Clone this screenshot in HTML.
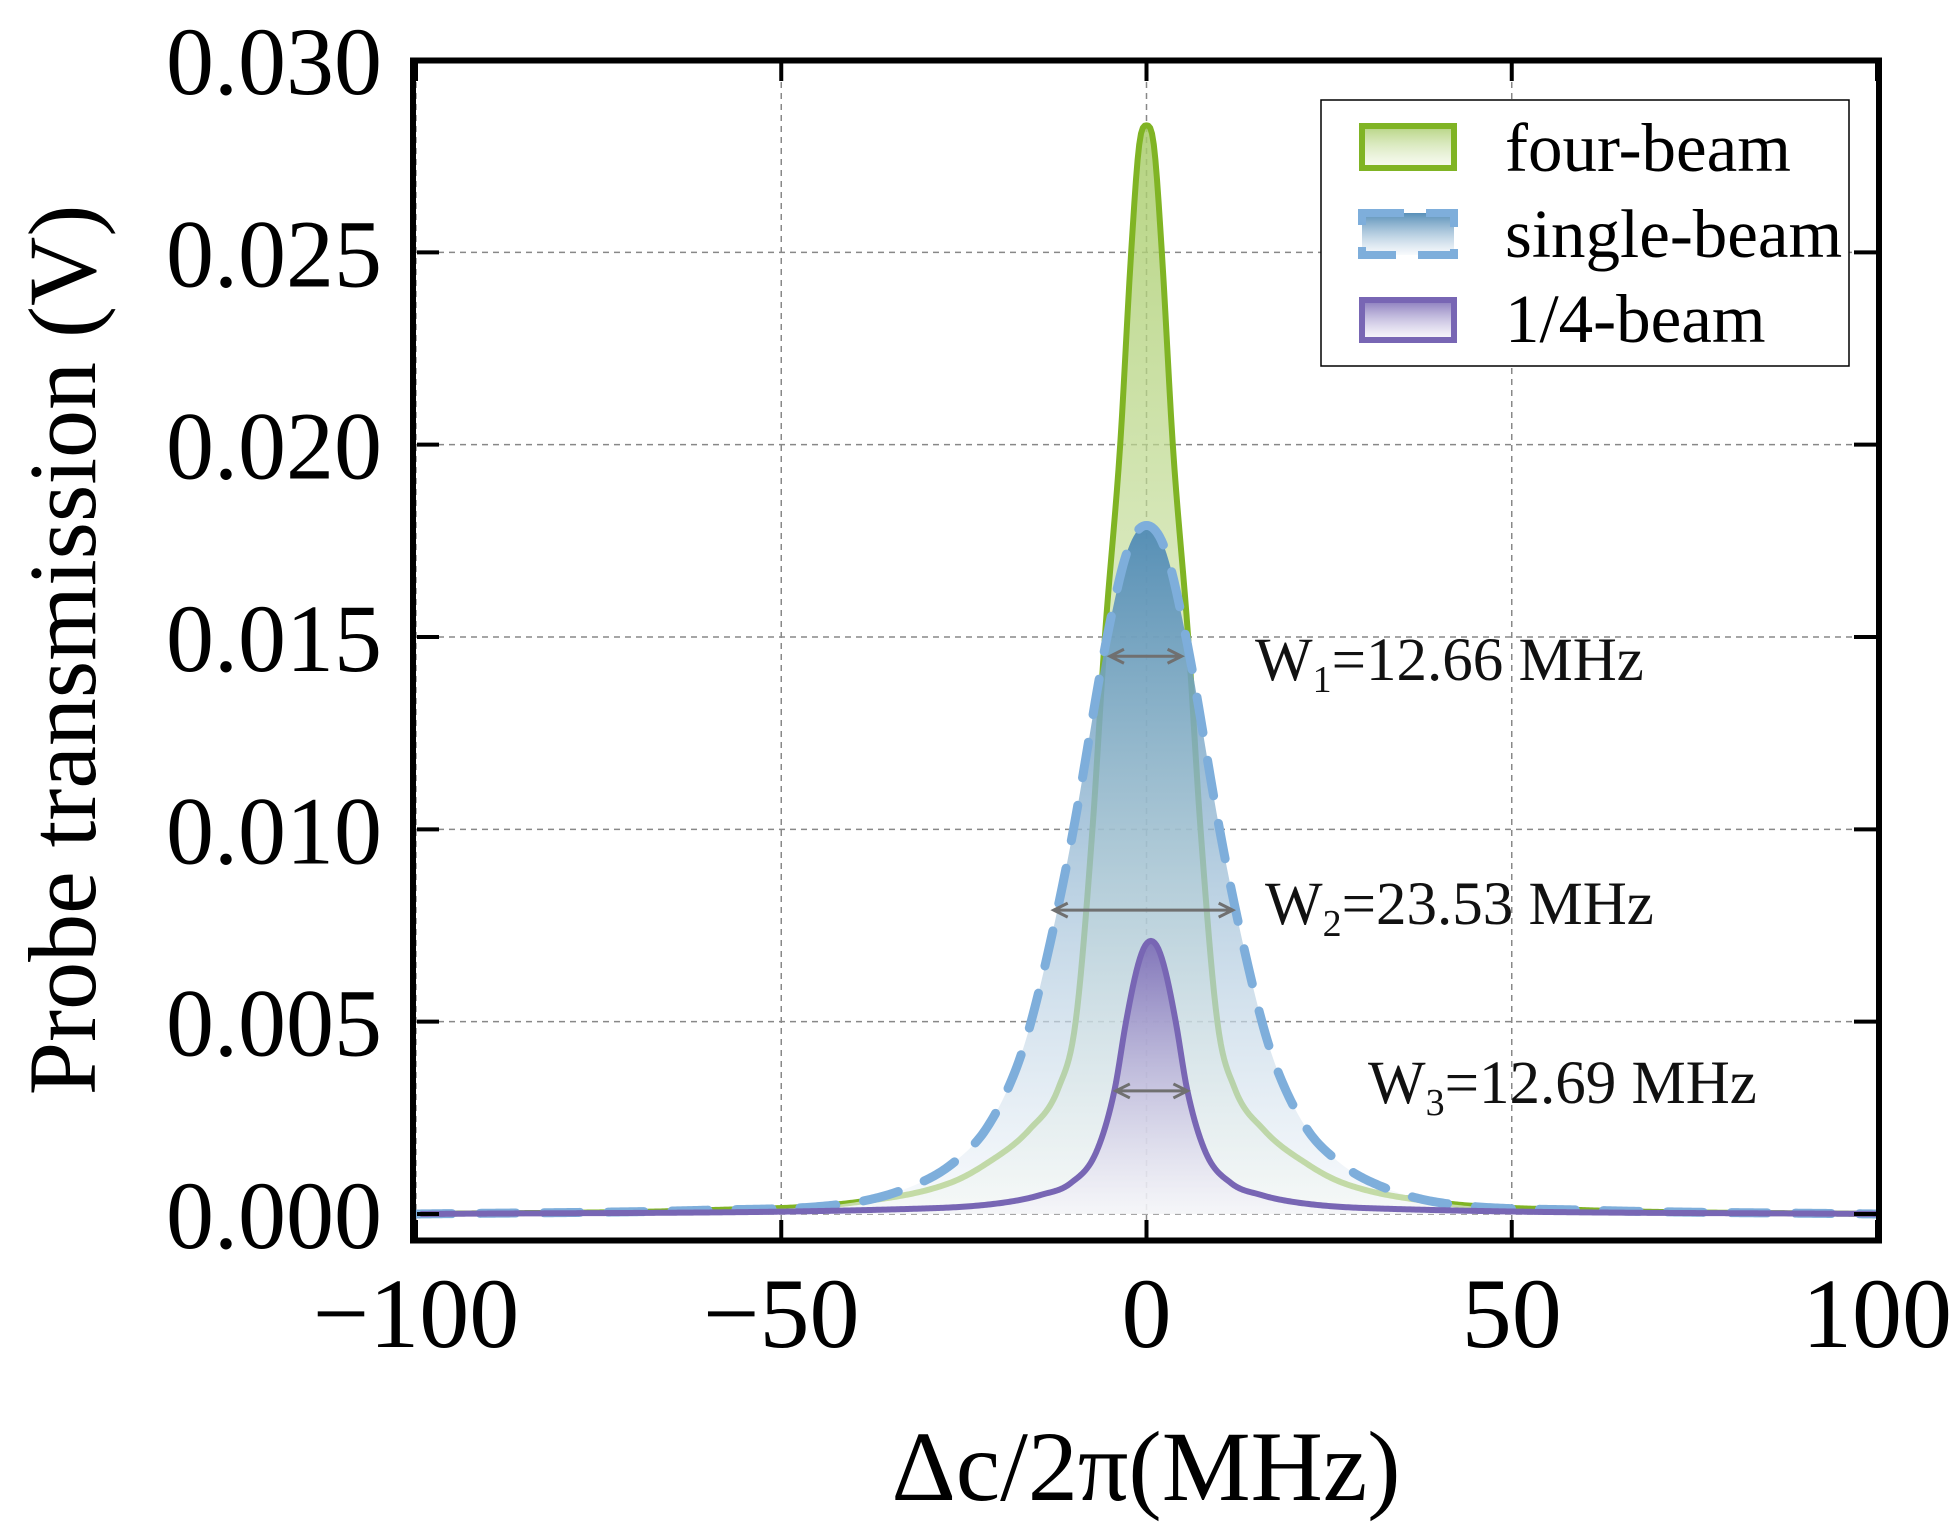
<!DOCTYPE html>
<html><head><meta charset="utf-8"><style>
html,body{margin:0;padding:0;background:#fff;}
svg{display:block;font-family:"Liberation Serif",serif;}
</style></head><body>
<svg id="chart" width="1958" height="1539" viewBox="0 0 1958 1539">
<defs>
<linearGradient id="gGreen" x1="0" y1="0" x2="0" y2="1"><stop offset="0" stop-color="#a8cc6a" stop-opacity="0.85"/><stop offset="1" stop-color="#eef5e0" stop-opacity="0.4"/></linearGradient>
<linearGradient id="gBlue" x1="0" y1="0" x2="0" y2="1"><stop offset="0" stop-color="#4f8ab5" stop-opacity="0.95"/><stop offset="1" stop-color="#f4f7fb" stop-opacity="0.6"/></linearGradient>
<linearGradient id="gPurple" x1="0" y1="0" x2="0" y2="1"><stop offset="0" stop-color="#7a6ab5" stop-opacity="0.9"/><stop offset="1" stop-color="#f5f3fa" stop-opacity="0.5"/></linearGradient>
<clipPath id="plotClip"><rect x="416" y="62" width="1461" height="1178"/></clipPath>
</defs>
<g id="grid"></g>
<g id="series" clip-path="url(#plotClip)"></g>
<g id="annot"></g>
<g id="axes"></g>
</svg>
<script>
const xTicks=[-100,-50,0,50,100];
const xTickLabels=["\u2212100","\u221250","0","50","100"];
const yTicks=[0,0.005,0.010,0.015,0.020,0.025,0.030];
const yTickLabels=["0.000","0.005","0.010","0.015","0.020","0.025","0.030"];
const fourX=[-100,-60,-40,-27,-22,-16,-12,-9.7,-7.4,-5.7,-3.6,-2.1,-1,0,1,2.1,3.6,5.7,7.4,9.7,12,16,22,27,40,60,100];
const fourBeam=[0,0.0001,0.0003,0.0008,0.0013,0.0022,0.0033,0.005,0.010,0.015,0.020,0.025,0.0278,0.0283,0.0278,0.025,0.020,0.015,0.010,0.005,0.0033,0.0022,0.0013,0.0008,0.0003,0.0001,0];
const singleX=[-100,-60,-40,-30,-26,-22,-18,-15.8,-12.2,-10,-5.4,-2.5,0,2.5,5.4,10,12.2,15.8,18,22,26,30,40,60,100];
const singleBeam=[0,0.0001,0.0003,0.0009,0.0014,0.0022,0.0037,0.005,0.0079,0.010,0.015,0.0173,0.0179,0.0173,0.015,0.010,0.0079,0.005,0.0037,0.0022,0.0014,0.0009,0.0003,0.0001,0];
const quarterX=[-99.4,-29.4,-19.4,-14.4,-10.4,-6.9,-4.4,-2.8,-1.4,-0.4,0.6,1.6,2.6,4,5.6,8.1,11.6,15.6,20.6,30.6,100.6];
const quarterBeam=[0,0.00015,0.0003,0.0005,0.0008,0.0016,0.0032,0.005,0.0063,0.0069,0.0071,0.0069,0.0063,0.005,0.0032,0.0016,0.0008,0.0005,0.0003,0.00015,0];
const widthLabels=["W","W","W"];
const widthSubs=["1","2","3"];
const widthVals=["=12.66 MHz","=23.53 MHz","=12.69 MHz"];
const arrowY=[0.0145,0.0079,0.0032];
const arrowX0=[-5,-12.7,-4.2];
const arrowX1=[4.8,11.8,5.6];

const NS="http://www.w3.org/2000/svg";
const L=416,R=1877,T=60,Y0=1214;
function sx(v){return L+(v+100)/200*(R-L);}
function sy(v){return Y0-v/0.03*(Y0-T);}
function mk(tag,attrs,parent){const e=document.createElementNS(NS,tag);for(const k in attrs)e.setAttribute(k,attrs[k]);parent.appendChild(e);return e;}
function smooth(xs,ys){
  const n=xs.length,d=[],m=new Array(n);
  for(let i=0;i<n-1;i++)d.push((ys[i+1]-ys[i])/(xs[i+1]-xs[i]));
  m[0]=d[0];m[n-1]=d[n-2];
  for(let i=1;i<n-1;i++){m[i]=(d[i-1]*d[i]<=0)?0:(d[i-1]+d[i])/2;}
  for(let i=0;i<n-1;i++){
    if(d[i]===0){m[i]=0;m[i+1]=0;continue;}
    const a=m[i]/d[i],b=m[i+1]/d[i],s=a*a+b*b;
    if(s>9){const t=3/Math.sqrt(s);m[i]=t*a*d[i];m[i+1]=t*b*d[i];}
  }
  let path="M"+sx(xs[0])+","+sy(ys[0]);
  for(let i=0;i<n-1;i++){
    const h=xs[i+1]-xs[i],steps=Math.max(4,Math.ceil(h*4));
    for(let k=1;k<=steps;k++){
      const t=k/steps,t2=t*t,t3=t2*t;
      const y=(2*t3-3*t2+1)*ys[i]+(t3-2*t2+t)*h*m[i]+(-2*t3+3*t2)*ys[i+1]+(t3-t2)*h*m[i+1];
      path+=" L"+sx(xs[i]+t*h).toFixed(2)+","+sy(y).toFixed(2);
    }
  }
  return path;
}
const grid=document.getElementById('grid'),series=document.getElementById('series'),annot=document.getElementById('annot'),axes=document.getElementById('axes');

xTicks.forEach((v,i)=>{
  const g=mk('line',{x1:sx(v),x2:sx(v),y1:T,y2:1240,stroke:'#888','stroke-width':1.5,'stroke-dasharray':'6 5'},grid);
  
  
});
yTicks.forEach((v,i)=>{
  const g=mk('line',{x1:L,x2:R,y1:sy(v),y2:sy(v),stroke:'#888','stroke-width':1.5,'stroke-dasharray':'6 5'},grid);
  
  
});

function drawSeries(xs,ys,fill,stroke,dash,w,name){
  const base=sy(0);
  const d=smooth(xs,ys);
  const f=mk('path',{d:d+" L"+sx(xs[xs.length-1])+","+base+" L"+sx(xs[0])+","+base+" Z",fill:fill,stroke:'none'},series);
  
  
  const l=mk('path',{d:d,fill:'none',stroke:stroke,'stroke-width':w,'stroke-dasharray':dash,'stroke-linejoin':'round','stroke-linecap':dash==='none'?'butt':'round'},series);
  
  
}
drawSeries(fourX,fourBeam,'url(#gGreen)','#80b424','none',6,'four-beam');
drawSeries(singleX,singleBeam,'url(#gBlue)','#7eaedb','36 28',9,'single-beam');
drawSeries(quarterX,quarterBeam,'url(#gPurple)','#7866b4','none',6,'quarter-beam');

const labelX=[1255,1265,1368],labelY=[680,924,1103];
arrowY.forEach((v,i)=>{
  const y=sy(v),x0=sx(arrowX0[i]),x1=sx(arrowX1[i]);
  const a=mk('path',{d:`M${x0},${y} L${x1},${y} M${x0+14},${y-7} L${x0},${y} L${x0+14},${y+7} M${x1-14},${y-7} L${x1},${y} L${x1-14},${y+7}`,fill:'none',stroke:'#707070','stroke-width':3},annot);
  
  
  const t=mk('text',{x:labelX[i],y:labelY[i],'font-size':61,fill:'#111'},annot);
  
  
  const s1=mk('tspan',{},t);s1.textContent=widthLabels[i];
  const s2=mk('tspan',{'font-size':38,dy:12},t);s2.textContent=widthSubs[i];
  const s3=mk('tspan',{dy:-12},t);s3.textContent=widthVals[i];
});

xTicks.forEach((v,i)=>{
  const t=mk('path',{d:`M${sx(v)},1240 v-20 M${sx(v)},61 v20`,stroke:'#000','stroke-width':4},axes);
  
  
  const lb=mk('text',{x:sx(v),y:1347,'font-size':100,'text-anchor':'middle',fill:'#000'},axes);
  
  
  lb.textContent=xTickLabels[i];
});
yTicks.forEach((v,i)=>{
  const t=mk('path',{d:`M417,${sy(v)} h22 M1876,${sy(v)} h-22`,stroke:'#000','stroke-width':4},axes);
  
  
  const lb=mk('text',{x:382,y:sy(v)+34,'font-size':96,'text-anchor':'end',fill:'#000'},axes);
  
  
  lb.textContent=yTickLabels[i];
});
</script>
<svg style="position:absolute;left:0;top:0" width="1958" height="1539">
<rect x="413" y="60.5" width="1466" height="1180" fill="none" stroke="#000" stroke-width="6"/>
<text x="1146" y="1500" font-size="100" text-anchor="middle" font-family="Liberation Serif, serif">Δc/2π(MHz)</text>
<text transform="translate(95,650) rotate(-90)" font-size="96" text-anchor="middle" font-family="Liberation Serif, serif">Probe transmission (V)</text>
<g font-family="Liberation Serif, serif">
<rect x="1321" y="100" width="528" height="266" fill="#fff" stroke="#000" stroke-width="1.5"/>
<rect x="1362" y="126" width="92" height="42" fill="url(#gGreen)" stroke="#80b424" stroke-width="6"/>
<text x="1505" y="171" font-size="69">four-beam</text>
<rect x="1362" y="213" width="92" height="42" fill="url(#gBlue)" stroke="#7eaedb" stroke-width="8" stroke-dasharray="42 22"/>
<text x="1505" y="257" font-size="69">single-beam</text>
<rect x="1362" y="300" width="92" height="40" fill="url(#gPurple)" stroke="#7866b4" stroke-width="6"/>
<text x="1505" y="342" font-size="69">1/4-beam</text>
</g>
</svg>
</body></html>
